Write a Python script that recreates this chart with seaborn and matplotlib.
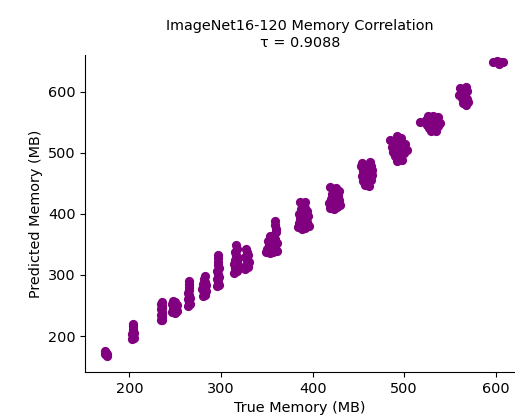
"""
Predicted vs true memory scatter for ImageNet16-120
"""

import pandas as pd
import seaborn as sns
import matplotlib.pyplot as plt

TITLE = "ImageNet16-120 Memory Correlation\n\u03c4 = 0.9088"

# true memory (MB) of each sampled architecture, grouped by cluster
true_mem = [
    173, 175, 174, 173, 175,
    203, 205, 204, 203, 205, 204, 204, 204, 204,
    234, 236, 235, 234, 236, 235, 234, 236, 235, 234, 235,
    247, 250, 252, 248, 251, 249, 252, 247, 250, 248,
    264, 266, 265, 264, 266, 265, 264, 265, 265, 265, 265,
    280, 283, 281, 284, 279, 282, 284, 280, 283, 281, 282,
    296, 298, 297, 296, 298, 297, 296, 298, 297, 297, 297, 297,
    314, 317, 315, 318, 314, 317, 315, 318, 316, 315, 317, 316,
    326, 329, 327, 330, 328, 326, 329, 328, 327,
    349, 353, 357, 361, 350, 355, 359, 352, 356, 361, 351, 355, 359, 354, 358, 360, 360, 359, 359,
    384, 388, 392, 396, 385, 390, 394, 386, 391, 395, 385, 390, 394, 387, 392, 389, 386, 392,
    419, 423, 427, 430, 418, 422, 426, 429, 420, 424, 428, 421, 425, 429, 422, 426, 419,
    454, 463, 453, 458, 464, 455, 460, 465, 454, 459, 465, 455, 460, 464, 457, 462,
    485, 492, 497, 489, 495, 501, 487, 493, 499, 503, 488, 494, 500, 490, 496, 492, 498,
    517, 526, 532, 537, 524, 530, 536, 539, 525, 531, 537, 527, 533, 529, 535,
    561, 567, 563, 569, 560, 566, 563, 569, 564, 570, 567,
    597, 601, 605, 608, 603,
]

# predicted memory (MB), same order as true_mem
pred_mem = [
    170, 171, 173, 175, 168,
    196, 197, 200, 203, 205, 208, 212, 216, 219,
    226, 227, 231, 235, 236, 240, 244, 246, 249, 252, 255,
    240, 238, 241, 245, 246, 249, 251, 253, 255, 257,
    250, 252, 256, 260, 263, 267, 271, 276, 281, 286, 290,
    266, 267, 271, 274, 277, 280, 283, 286, 289, 293, 298,
    282, 284, 289, 294, 297, 302, 307, 311, 316, 322, 328, 333,
    304, 307, 311, 314, 318, 321, 325, 328, 332, 337, 342, 349,
    310, 313, 317, 321, 325, 329, 333, 338, 343,
    338, 336, 337, 340, 343, 342, 345, 349, 350, 352, 356, 357, 359, 363, 365, 370, 376, 382, 388,
    378, 376, 377, 380, 385, 384, 387, 392, 393, 396, 399, 401, 404, 408, 410, 415, 419, 420,
    410, 408, 411, 414, 417, 416, 419, 422, 425, 426, 429, 432, 434, 437, 440, 443, 444,
    484, 485, 478, 477, 478, 470, 469, 471, 462, 461, 463, 454, 453, 455, 447, 446,
    521, 527, 525, 517, 518, 515, 510, 509, 508, 505, 502, 500, 499, 494, 492, 487, 488,
    550, 560, 561, 558, 553, 554, 552, 548, 546, 547, 544, 540, 539, 535, 536,
    606, 607, 600, 601, 595, 594, 589, 588, 582, 583, 578,
    648, 650, 649, 648, 646,
]


def plot() -> None:
    df = pd.DataFrame({"true": true_mem, "pred": pred_mem})

    fig = plt.figure(figsize=(5.15, 4.2), dpi=100)
    ax = fig.add_axes([0.166, 0.114, 0.834, 0.755])
    sns.scatterplot(data=df, x="true", y="pred", color="purple",
                    s=44, linewidth=0, alpha=1, ax=ax)
    sns.despine(ax=ax)

    ax.set_xlim(152, 621)
    ax.set_ylim(141, 660)
    ax.set_xticks([200, 300, 400, 500, 600])
    ax.set_yticks([200, 300, 400, 500, 600])
    ax.tick_params(labelsize=10.4)
    ax.set_xlabel("True Memory (MB)", fontsize=10.4)
    ax.set_ylabel("Predicted Memory (MB)", fontsize=10.4)
    ax.set_title(TITLE, fontsize=10.4)

    fig.savefig("out.png", dpi=100)


if __name__ == "__main__":
    plot()
